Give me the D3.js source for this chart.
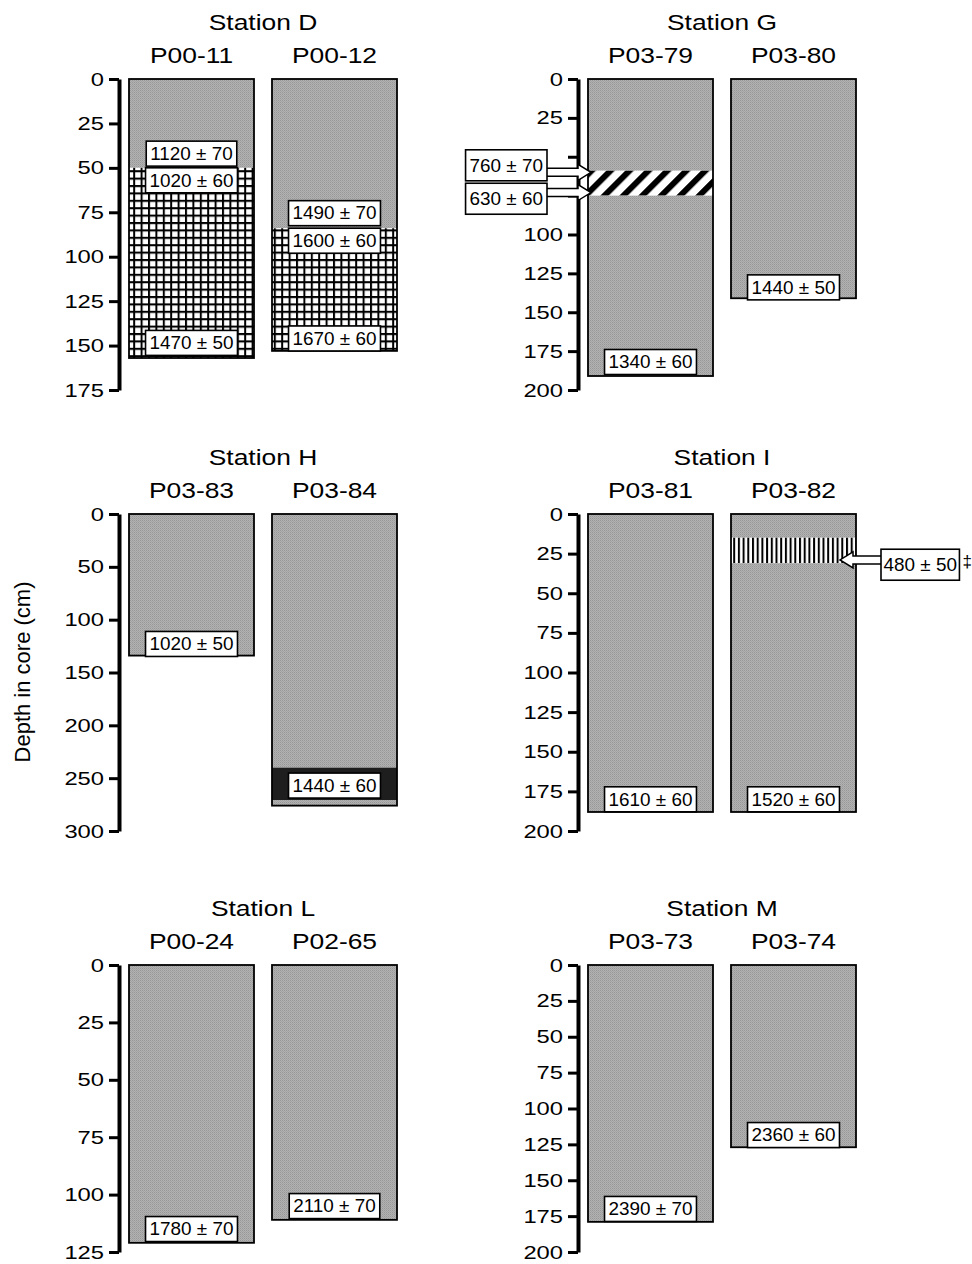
<!DOCTYPE html>
<html>
<head>
<meta charset="utf-8">
<script src="https://cdn.jsdelivr.net/npm/d3@7"></script>
<style>
  body { margin: 0; background: #fff; }
  text { font-family: "Liberation Sans", Arial, Helvetica, sans-serif; fill: #000; }
</style>
</head>
<body>
<svg id="chart" width="972" height="1264"></svg>
<script>
// --- data (depths in cm) ---
const stationNames = ["Station D", "Station G", "Station H", "Station I", "Station L", "Station M"];
const coreIds = [["P00-11", "P00-12"], ["P03-79", "P03-80"], ["P03-83", "P03-84"],
                 ["P03-81", "P03-82"], ["P00-24", "P02-65"], ["P03-73", "P03-74"]];
const coreLengths = [[157, 153], [191, 141], [134, 276], [188, 188], [121, 111], [179, 127]];
const depthMax = [175, 200, 300, 200, 125, 200];
const tickStep = [25, 25, 50, 25, 25, 25];
// tick labels hidden behind the outside age boxes: [station, depth]
const hiddenTicks = [[1, 50], [1, 75]];

// units: [station, core, top, bottom, facies]
const units = [
  [0, 0, 0, 50, "mud"], [0, 0, 50, 157, "grid"],
  [0, 1, 0, 84, "mud"], [0, 1, 84, 153, "grid"],
  [1, 0, 0, 59, "mud"], [1, 0, 59, 75, "hatch"], [1, 0, 75, 191, "mud"],
  [1, 1, 0, 141, "mud"],
  [2, 0, 0, 134, "mud"],
  [2, 1, 0, 240, "mud"], [2, 1, 240, 271, "dark"], [2, 1, 271, 276, "mud"],
  [3, 0, 0, 188, "mud"],
  [3, 1, 0, 15, "mud"], [3, 1, 15, 31, "vlines"], [3, 1, 31, 188, "mud"],
  [4, 0, 0, 121, "mud"], [4, 1, 0, 111, "mud"],
  [5, 0, 0, 179, "mud"], [5, 1, 0, 127, "mud"]
];

// dates: [station, core, label depth, text, side, arrow depth]
const dates = [
  [0, 0, 42, "1120 ± 70", "in", null], [0, 0, 57, "1020 ± 60", "in", null], [0, 0, 148.5, "1470 ± 50", "in", null],
  [0, 1, 75.5, "1490 ± 70", "in", null], [0, 1, 91, "1600 ± 60", "in", null], [0, 1, 146, "1670 ± 60", "in", null],
  [1, 0, 55.5, "760 ± 70", "left", 60], [1, 0, 77, "630 ± 60", "left", 73], [1, 0, 182, "1340 ± 60", "in", null],
  [1, 1, 134, "1440 ± 50", "in", null],
  [2, 0, 123, "1020 ± 50", "in", null], [2, 1, 257, "1440 ± 60", "in", null],
  [3, 0, 180, "1610 ± 60", "in", null], [3, 1, 180, "1520 ± 60", "in", null],
  [3, 1, 32, "480 ± 50", "right", 29],
  [4, 0, 115, "1780 ± 70", "in", null], [4, 1, 105, "2110 ± 70", "in", null],
  [5, 0, 170, "2390 ± 70", "in", null], [5, 1, 118.5, "2360 ± 60", "in", null]
];

// --- layout ---
const colX = [119, 578];
const rowTop = [79, 514, 965];
const rowBottom = [390, 831, 1252];

const svg = d3.select("#chart");
const defs = svg.append("defs");

// stippled grey sediment
const pMud = defs.append("pattern").attr("id", "mud").attr("patternUnits", "userSpaceOnUse")
  .attr("width", 2).attr("height", 2);
pMud.append("rect").attr("width", 2).attr("height", 2).attr("fill", "#b2b2b2");
pMud.append("rect").attr("width", 1).attr("height", 1).attr("fill", "#979797");
pMud.append("rect").attr("x", 1).attr("y", 1).attr("width", 1).attr("height", 1).attr("fill", "#a4a4a4");

// square grid
const g7 = 7.4;
const pGrid = defs.append("pattern").attr("id", "grid").attr("patternUnits", "userSpaceOnUse")
  .attr("width", g7).attr("height", g7);
pGrid.append("rect").attr("width", g7).attr("height", g7).attr("fill", "#fff");
pGrid.append("path").attr("d", `M0,1H${g7}M1,0V${g7}`).attr("stroke", "#000").attr("stroke-width", 2);

// diagonal hatch
const pHatch = defs.append("pattern").attr("id", "hatch").attr("patternUnits", "userSpaceOnUse")
  .attr("width", 13.4).attr("height", 13.4).attr("patternTransform", "rotate(45)");
pHatch.append("rect").attr("width", 13.4).attr("height", 13.4).attr("fill", "#fff");
pHatch.append("rect").attr("width", 6).attr("height", 13.4).attr("fill", "#000");

// vertical lines
const pV = defs.append("pattern").attr("id", "vlines").attr("patternUnits", "userSpaceOnUse")
  .attr("width", 4.7).attr("height", 10);
pV.append("rect").attr("width", 4.7).attr("height", 10).attr("fill", "#fff");
pV.append("rect").attr("width", 2).attr("height", 10).attr("fill", "#000");

const fills = { mud: "url(#mud)", grid: "url(#grid)", hatch: "url(#hatch)", vlines: "url(#vlines)", dark: "#1e1e1e" };

const arrowPts = (x0, tx, ty) => {
  const dir = tx > x0 ? 1 : -1;
  const hx = tx - dir * 13;
  return [[x0, ty - 4], [hx, ty - 4], [hx, ty - 8], [tx, ty], [hx, ty + 8], [hx, ty + 4], [x0, ty + 4]];
};

stationNames.forEach((name, s) => {
  const col = s % 2, row = Math.floor(s / 2);
  const ax = colX[col];
  const y = d3.scaleLinear().domain([0, depthMax[s]]).range([rowTop[row], rowBottom[row]]);
  const x = d3.scaleBand().domain([0, 1]).range([ax + 10, ax + 278]).paddingInner(18 / 143);
  const g = svg.append("g");

  // titles
  const xMid = (x(0) + x(1) + x.bandwidth()) / 2;
  g.append("text").attr("transform", `translate(${xMid},${rowTop[row] - 49}) scale(1.2,1)`)
    .attr("text-anchor", "middle").attr("font-size", 22).text(name);
  coreIds[s].forEach((id, c) => {
    g.append("text").attr("transform", `translate(${x(c) + x.bandwidth() / 2},${rowTop[row] - 16}) scale(1.2,1)`)
      .attr("text-anchor", "middle").attr("font-size", 22).text(id);
  });

  // axis
  const axis = d3.axisLeft(y).tickValues(d3.range(0, depthMax[s] + 1, tickStep[s]))
    .tickSize(10).tickSizeOuter(0).tickPadding(5);
  const ag = g.append("g").attr("transform", `translate(${ax},0)`).call(axis);
  ag.select(".domain").attr("stroke-width", 4).attr("stroke", "#000");
  ag.selectAll(".tick line").attr("stroke-width", 3).attr("stroke", "#000");
  ag.selectAll(".tick text").attr("font-size", 19).attr("font-family", null)
    .attr("x", -15 / 1.25).attr("transform", "scale(1.25,1)")
    .filter(v => hiddenTicks.some(h => h[0] === s && h[1] === v)).remove();

  // core units
  units.filter(u => u[0] === s).forEach(u => {
    g.append("rect").attr("x", x(u[1])).attr("y", y(u[2]))
      .attr("width", x.bandwidth()).attr("height", y(u[3]) - y(u[2]))
      .attr("fill", fills[u[4]]);
  });
  coreLengths[s].forEach((len, c) => {
    g.append("rect").attr("x", x(c)).attr("y", y(0))
      .attr("width", x.bandwidth()).attr("height", y(len) - y(0))
      .attr("fill", "none").attr("stroke", "#000").attr("stroke-width", 1.8);
  });

  // radiocarbon ages
  dates.filter(d => d[0] === s).forEach(d => {
    const c = d[1];
    const cx0 = x(c), cx1 = x(c) + x.bandwidth();
    const lg = g.append("g");
    const t = lg.append("text").attr("font-size", 17.5).attr("text-anchor", "middle")
      .attr("dy", "0.36em").text(d[3]);
    const tw = t.node().getComputedTextLength() * 1.08;
    const bw = tw + (d[4] === "right" ? 5 : 8), bh = d[4] === "in" ? 25 : 31;
    let bx;
    if (d[4] === "in") bx = (cx0 + cx1) / 2 - bw / 2;
    else if (d[4] === "left") bx = ax - 31 - bw;
    else bx = cx1 + 25;
    const by = y(d[2]) - bh / 2;

    if (d[5] !== null) {
      const ty = y(d[5]);
      const pts = d[4] === "left" ? arrowPts(bx + bw - 1, cx0 + 3, ty) : arrowPts(bx + 1, cx1 - 16, ty);
      lg.insert("polygon", "text").attr("points", pts.map(p => p.join(",")).join(" "))
        .attr("fill", "#fff").attr("stroke", "#000").attr("stroke-width", 1.5);
    }
    lg.insert("rect", "text").attr("x", bx).attr("y", by).attr("width", bw).attr("height", bh)
      .attr("fill", "#fff").attr("stroke", "#000").attr("stroke-width", 1.6);
    t.attr("transform", `translate(${bx + bw / 2},${y(d[2])}) scale(1.08,1)`);
    if (d[4] === "right") {
      lg.append("text").attr("x", bx + bw + 3).attr("y", y(d[2]) + 2).attr("font-size", 17).text("‡");
    }
  });
});

// shared y label
svg.append("text").attr("transform", "translate(30,672) rotate(-90)")
  .attr("text-anchor", "middle").attr("font-size", 22).text("Depth in core (cm)");
</script>
</body>
</html>
